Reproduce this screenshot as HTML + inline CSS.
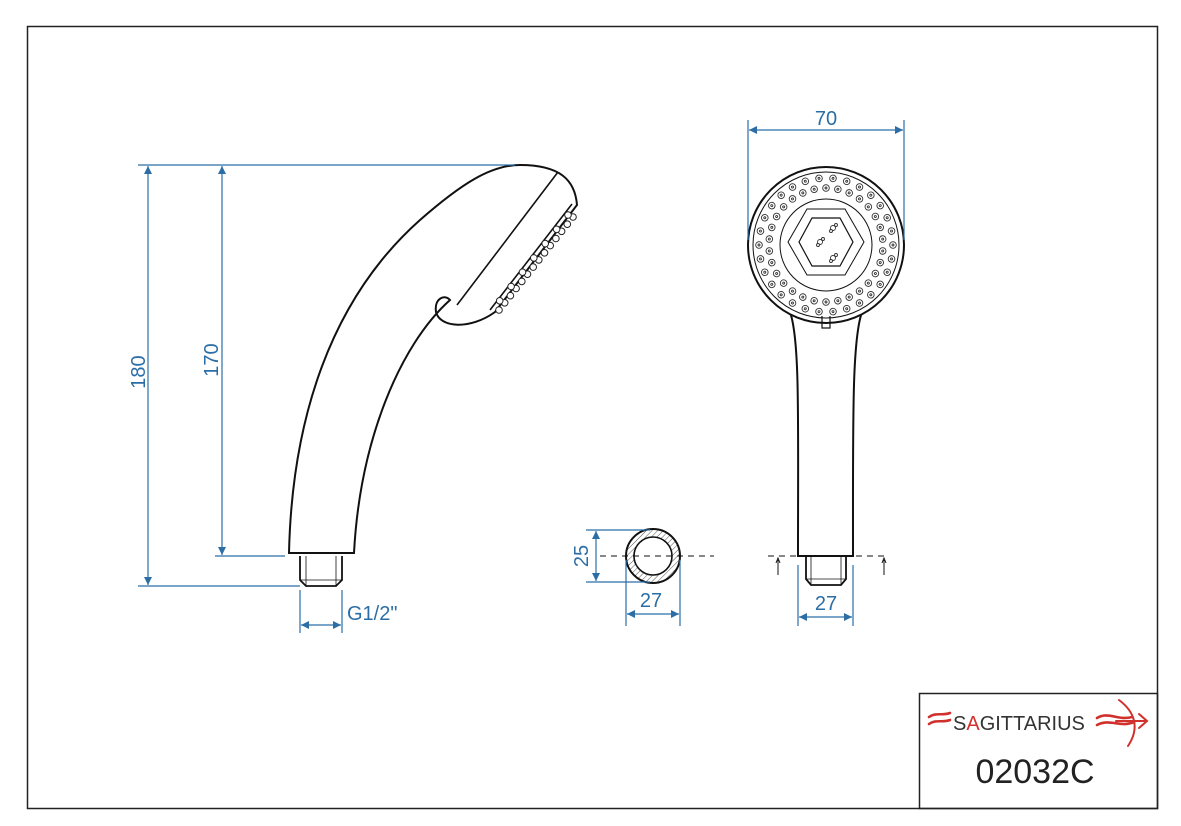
<!DOCTYPE html>
<html><head><meta charset="utf-8"><style>
html,body{margin:0;padding:0;background:#fff}
svg{display:block}
text{font-family:"Liberation Sans",sans-serif}
</style></head><body>
<svg width="1181" height="826" viewBox="0 0 1181 826" xmlns="http://www.w3.org/2000/svg" xmlns:xlink="http://www.w3.org/1999/xlink">
<defs>
<marker id="a" viewBox="0 0 10 10" refX="10" refY="5" markerWidth="10" markerHeight="8" orient="auto-start-reverse" markerUnits="userSpaceOnUse"><path d="M0,0 L10,5 L0,10 z" fill="#2b6ea6"/></marker>
<pattern id="h" width="4" height="4" patternUnits="userSpaceOnUse" patternTransform="rotate(45)"><line x1="0" y1="0" x2="0" y2="4" stroke="#555" stroke-width="1"/></pattern>
<g id="ho"><circle cx="893" cy="245" r="3.3"/><circle cx="893" cy="245" r="1"/></g>
<g id="hi"><circle cx="883" cy="245" r="3.3"/><circle cx="883" cy="245" r="1"/></g>
<g id="ring1"><use xlink:href="#ho"/><use xlink:href="#ho" transform="rotate(12 826 245)"/><use xlink:href="#ho" transform="rotate(24 826 245)"/><use xlink:href="#ho" transform="rotate(36 826 245)"/><use xlink:href="#ho" transform="rotate(48 826 245)"/><use xlink:href="#ho" transform="rotate(60 826 245)"/></g>
<g id="ring2"><use xlink:href="#hi" transform="rotate(6 826 245)"/><use xlink:href="#hi" transform="rotate(18 826 245)"/><use xlink:href="#hi" transform="rotate(30 826 245)"/><use xlink:href="#hi" transform="rotate(42 826 245)"/><use xlink:href="#hi" transform="rotate(54 826 245)"/><use xlink:href="#hi" transform="rotate(66 826 245)"/></g>
<g id="rings"><use xlink:href="#ring1"/><use xlink:href="#ring2"/></g>
</defs>
<rect x="27.5" y="26.5" width="1130" height="782" fill="none" stroke="#222" stroke-width="1.5"/>
<rect x="919.5" y="693.5" width="238" height="115" fill="none" stroke="#222" stroke-width="1.5"/>

<!-- side view -->
<g fill="none" stroke="#111" stroke-width="2">
<path d="M289,553 C292,420 330,300 420,220 C460,185 490,165 520,165 C560,165 575,180 577,205 L495,312 C470,330 440,328 436,312 C434,298 445,294 450,300 C400,345 360,440 354,553 Z" fill="#fff"/>
<line x1="558" y1="172" x2="457" y2="305" stroke-width="1.6"/>
<line x1="572" y1="204" x2="490" y2="310" stroke-width="1.6"/>
<path d="M300,556 L300,580 L306,586 L336,586 L342,580 L342,556" stroke-width="1.8"/>
<line x1="306" y1="556" x2="306" y2="586" stroke-width="0.8"/>
<line x1="336" y1="556" x2="336" y2="586" stroke-width="0.8"/>
<line x1="300" y1="580" x2="342" y2="580" stroke-width="0.8"/>
</g>
<g fill="#fff" stroke="#222" stroke-width="1">
<circle cx="573" cy="217" r="3.3"/><circle cx="568" cy="215" r="3.3"/>
<circle cx="567.3" cy="224.2" r="3.3"/>
<circle cx="561.6" cy="231.3" r="3.3"/><circle cx="556.6" cy="229.3" r="3.3"/>
<circle cx="555.9" cy="238.5" r="3.3"/>
<circle cx="550.2" cy="245.6" r="3.3"/><circle cx="545.2" cy="243.6" r="3.3"/>
<circle cx="544.5" cy="252.8" r="3.3"/>
<circle cx="538.8" cy="259.9" r="3.3"/><circle cx="533.8" cy="257.9" r="3.3"/>
<circle cx="533.2" cy="267.1" r="3.3"/>
<circle cx="527.5" cy="274.2" r="3.3"/><circle cx="522.5" cy="272.2" r="3.3"/>
<circle cx="521.8" cy="281.4" r="3.3"/>
<circle cx="516.1" cy="288.5" r="3.3"/><circle cx="511.1" cy="286.5" r="3.3"/>
<circle cx="510.4" cy="295.7" r="3.3"/>
<circle cx="504.7" cy="302.8" r="3.3"/><circle cx="499.7" cy="300.8" r="3.3"/>
<circle cx="499" cy="310" r="3.3"/>
</g>

<!-- side dims -->
<g stroke="#2b6ea6" stroke-width="1.2" fill="none">
<line x1="138" y1="165" x2="515" y2="165"/>
<line x1="138" y1="586" x2="300" y2="586"/>
<line x1="215" y1="556" x2="285" y2="556"/>
<line x1="148" y1="166" x2="148" y2="585" marker-start="url(#a)" marker-end="url(#a)"/>
<line x1="222" y1="166" x2="222" y2="555" marker-start="url(#a)" marker-end="url(#a)"/>
<line x1="300" y1="590" x2="300" y2="633"/>
<line x1="342" y1="590" x2="342" y2="633"/>
<line x1="301" y1="625" x2="341" y2="625" marker-start="url(#a)" marker-end="url(#a)"/>
</g>
<g fill="#2b6ea6" font-size="20">
<text transform="translate(145,372) rotate(-90)" text-anchor="middle">180</text>
<text transform="translate(218,360) rotate(-90)" text-anchor="middle">170</text>
<text x="347" y="620">G1/2"</text>
</g>

<!-- front view -->
<g fill="none" stroke="#111">
<path d="M790,312 C800,340 798,420 798,556 L853,556 C853,420 852,340 862,312" fill="#fff" stroke-width="2"/>
<circle cx="826" cy="245" r="78" fill="#fff" stroke-width="2"/>
<circle cx="826" cy="245" r="73" stroke-width="1"/>
<circle cx="826" cy="245" r="46" stroke-width="1"/>
<polygon points="788,242 807,209 845,209 864,242 845,275 807,275" stroke-width="1"/>
<polygon points="799,242 812,218 840,218 853,242 840,266 812,266" stroke-width="1.2"/>
<path d="M822,316 L822,328 L830,328 L830,316" stroke-width="1.2"/>
<path d="M806,556 L806,579 L811,585 L841,585 L846,579 L846,556" stroke-width="1.8"/>
<line x1="811" y1="556" x2="811" y2="585" stroke-width="0.8"/>
<line x1="841" y1="556" x2="841" y2="585" stroke-width="0.8"/>
<line x1="806" y1="579" x2="846" y2="579" stroke-width="0.8"/>
<line x1="768" y1="556" x2="888" y2="556" stroke-dasharray="6,5" stroke-width="1"/>
<line x1="778" y1="575" x2="778" y2="560" stroke-width="1"/>
<path d="M776,563 L778,558 L780,563" stroke-width="1"/>
<line x1="884" y1="575" x2="884" y2="560" stroke-width="1"/>
<path d="M882,563 L884,558 L886,563" stroke-width="1"/>
</g>
<g fill="#fff" stroke="#333" stroke-width="0.9">
<use xlink:href="#rings"/>
<use xlink:href="#rings" transform="rotate(72 826 245)"/>
<use xlink:href="#rings" transform="rotate(144 826 245)"/>
<use xlink:href="#rings" transform="rotate(216 826 245)"/>
<use xlink:href="#rings" transform="rotate(288 826 245)"/>
<circle cx="833" cy="228" r="2.5"/><circle cx="836" cy="225" r="1.5"/><circle cx="831" cy="231" r="1.5"/>
<circle cx="820" cy="242" r="2.5"/><circle cx="823" cy="239" r="1.5"/><circle cx="818" cy="245" r="1.5"/>
<circle cx="833" cy="258" r="2.5"/><circle cx="836" cy="255" r="1.5"/><circle cx="831" cy="261" r="1.5"/>
</g>

<g stroke="#2b6ea6" stroke-width="1.2" fill="none">
<line x1="748" y1="120" x2="748" y2="240"/>
<line x1="904" y1="120" x2="904" y2="240"/>
<line x1="749" y1="130" x2="903" y2="130" marker-start="url(#a)" marker-end="url(#a)"/>
<line x1="798" y1="565" x2="798" y2="626"/>
<line x1="853" y1="565" x2="853" y2="626"/>
<line x1="799" y1="617" x2="852" y2="617" marker-start="url(#a)" marker-end="url(#a)"/>
</g>
<g fill="#2b6ea6" font-size="20" text-anchor="middle">
<text x="826" y="125">70</text>
<text x="826" y="610">27</text>
<text x="651" y="607">27</text>
<text transform="translate(588,556) rotate(-90)">25</text>
</g>

<!-- cross-section -->
<g>
<circle cx="653" cy="556" r="23" fill="none" stroke="url(#h)" stroke-width="8"/>
<circle cx="653" cy="556" r="27" fill="none" stroke="#111" stroke-width="2"/>
<circle cx="653" cy="556" r="19" fill="none" stroke="#111" stroke-width="1.6"/>
<line x1="600" y1="556" x2="714" y2="556" stroke="#111" stroke-dasharray="6,5" stroke-width="1"/>
</g>
<g stroke="#2b6ea6" stroke-width="1.2" fill="none">
<line x1="586" y1="530" x2="650" y2="530"/>
<line x1="586" y1="582" x2="650" y2="582"/>
<line x1="596" y1="531" x2="596" y2="581" marker-start="url(#a)" marker-end="url(#a)"/>
<line x1="626" y1="560" x2="626" y2="626"/>
<line x1="680" y1="560" x2="680" y2="626"/>
<line x1="627" y1="614" x2="679" y2="614" marker-start="url(#a)" marker-end="url(#a)"/>
</g>

<!-- title block -->
<g fill="none" stroke="#d0312d" stroke-width="2.6" stroke-linecap="round">
<path d="M929,717 C936,712 942,716 950,713"/>
<path d="M929,724 C936,719 942,723 950,720"/>
<path d="M1097,718 C1108,711 1118,721 1132,717"/>
<path d="M1097,725 C1110,718 1120,728 1134,722"/>
<path d="M1119,700 C1135,712 1140,728 1128,746" stroke-width="2"/>
<path d="M1116,721 L1146,721 M1139,714 L1147,721 L1139,728" stroke-width="2"/>
</g>
<text x="953" y="730" font-size="20" fill="#333">S<tspan fill="#d0312d">A</tspan>GITTARIUS</text>
<text x="1035" y="783" font-size="34" fill="#222" text-anchor="middle">02032C</text>
</svg>
</body></html>
